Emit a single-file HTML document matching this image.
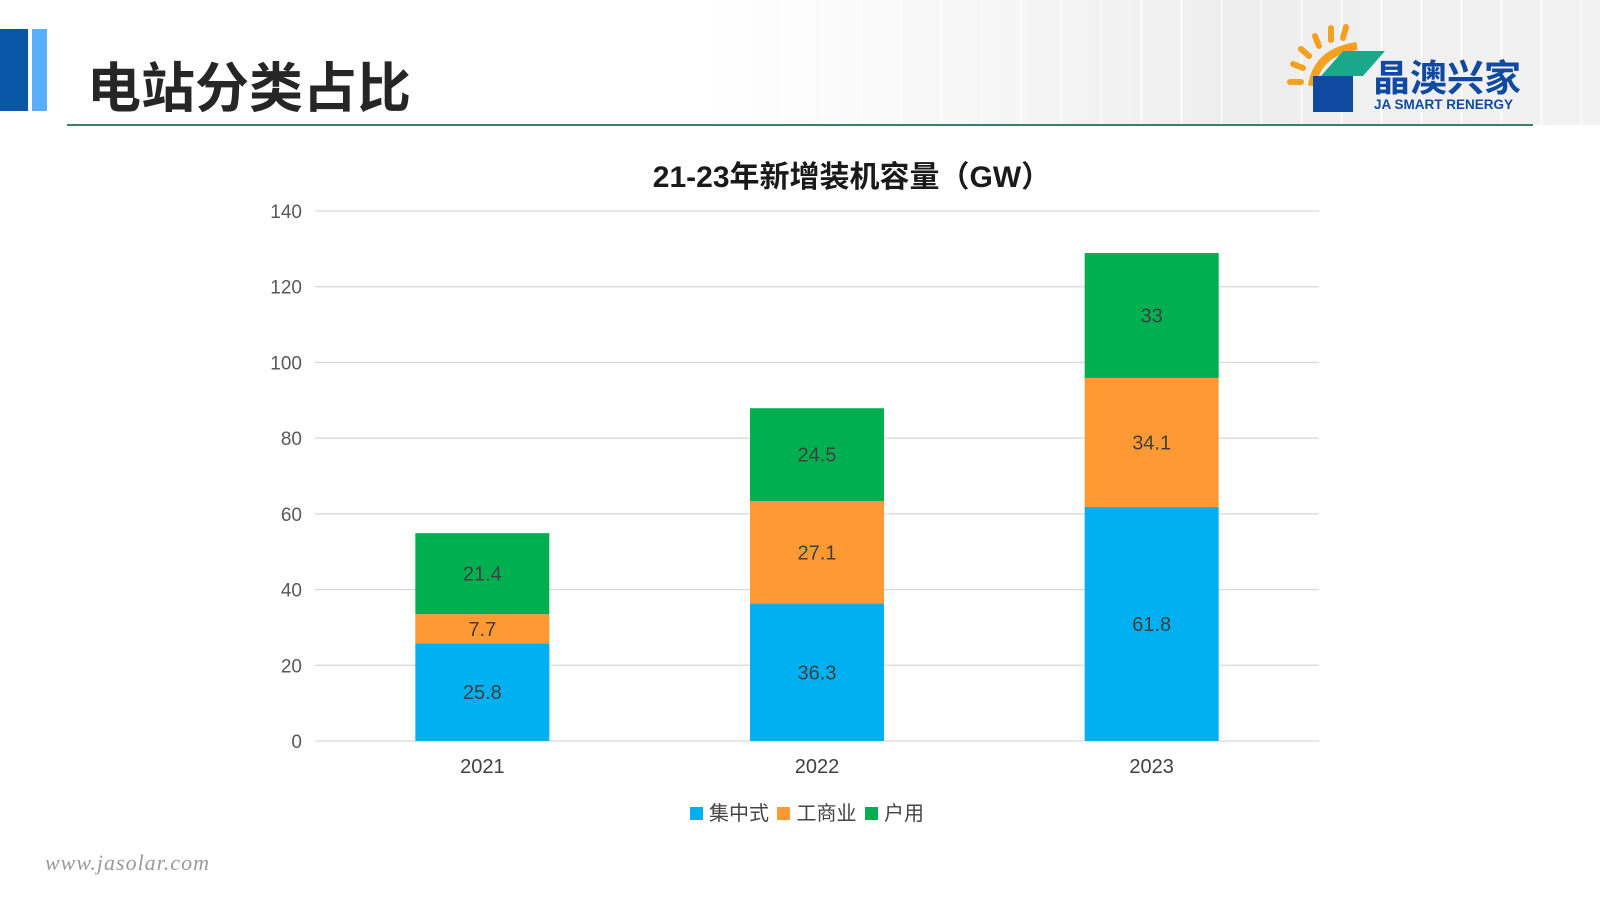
<!DOCTYPE html>
<html><head><meta charset="utf-8"><style>
html,body{margin:0;padding:0}
body{width:1600px;height:900px;position:relative;background:#fff;font-family:"Liberation Sans","Noto Sans CJK SC",sans-serif;overflow:hidden}
.abs{position:absolute}
</style></head><body>
<div class="abs" style="left:700px;top:0;width:900px;height:125px;background:repeating-linear-gradient(90deg,rgba(255,255,255,0.5) 0 3px,rgba(0,0,0,0) 3px 40px),linear-gradient(90deg,rgba(240,240,240,0),#eeeeee 60%,#f2f2f2)"></div>
<div class="abs" style="left:0;top:29px;width:28px;height:82px;background:#0a56a6"></div>
<div class="abs" style="left:32px;top:29px;width:15px;height:82px;background:#5aaeff"></div>
<div class="abs" style="left:87px;top:52px;font-size:54px;font-weight:bold;color:#262626;line-height:64px;font-family:'Noto Sans CJK SC',sans-serif">电站分类占比</div>
<div class="abs" style="left:67px;top:124px;width:1466px;height:2px;background:#3c7f68"></div>
<svg class="abs" style="left:1285px;top:12px" width="300" height="105">
<g stroke="#f4a020" stroke-width="6" stroke-linecap="round">
<line x1="16" y1="70" x2="5" y2="70"/><line x1="18" y1="56" x2="8" y2="52"/><line x1="24" y1="44" x2="16" y2="37"/><line x1="34" y1="34" x2="30" y2="24"/><line x1="46" y1="28" x2="46" y2="16"/><line x1="58" y1="26" x2="61" y2="15"/></g>
<path d="M27 74 Q32 40 72 34" stroke="#f4a020" stroke-width="8" fill="none"/>
<polygon points="36,64 78,64 100,39 58,39" fill="#1aa88a"/>
<rect x="28" y="64" width="40" height="36" fill="#0f4aa0"/>
<text x="88" y="79" font-size="37" font-weight="bold" fill="#0f4aa0" font-family="Noto Sans CJK SC,sans-serif">晶澳兴家</text>
<text x="89" y="97" font-size="13.5" font-weight="bold" fill="#0f4aa0">JA SMART RENERGY</text>
</svg>
<svg class="abs" style="left:0;top:0" width="1600" height="900" id="chart">
<text x="852" y="187" text-anchor="middle" font-size="30" font-weight="bold" fill="#1a1a1a" font-family="Liberation Sans,Noto Sans CJK SC,sans-serif">21-23年新增装机容量（GW）</text>
<g id="grid"></g><g id="bars"></g><g id="labels"></g>
</svg>
<div class="abs" style="left:690px;top:799px;font-size:20px;color:#444;font-family:'Noto Sans CJK SC',sans-serif;white-space:nowrap;line-height:26px">
<span><span style="display:inline-block;width:13px;height:13px;background:#00b0f0;margin-right:6px"></span>集中式</span>
<span style="margin-left:4px"><span style="display:inline-block;width:13px;height:13px;background:#ff9933;margin-right:6px"></span>工商业</span>
<span style="margin-left:4px"><span style="display:inline-block;width:13px;height:13px;background:#00b050;margin-right:6px"></span>户用</span>
</div>
<div class="abs" style="left:45px;top:850px;font-size:22px;font-style:italic;color:#9a9a9a;font-family:'Liberation Serif',serif;letter-spacing:1px">www.jasolar.com</div>
<script>
const categories=["2021","2022","2023"];
const centralized=[25.8,36.3,61.8];
const commercial=[7.7,27.1,34.1];
const residential=[21.4,24.5,33];
const yTicks=[0,20,40,60,80,100,120,140];
const series=[{v:centralized,c:"#00b0f0",n:"centralized"},{v:commercial,c:"#ff9933",n:"commercial"},{v:residential,c:"#00b050",n:"residential"}];
const L=315,R=1319,T=211,B=741,yMax=140;
const y=v=>B-(v/yMax)*(B-T);
const bw=(R-L)/categories.length;
const xc=i=>L+bw*(i+0.5);
const NS="http://www.w3.org/2000/svg";
const g=document.getElementById('grid'),gb=document.getElementById('bars'),gl=document.getElementById('labels');
function mk(tag,attrs,parent,text){const e=document.createElementNS(NS,tag);for(const k in attrs)e.setAttribute(k,attrs[k]);if(text!==undefined)e.textContent=text;parent.appendChild(e);return e;}
yTicks.forEach(t=>{
 const ln=mk('line',{x1:L,x2:R,y1:y(t),y2:y(t),stroke:'#d9d9d9','stroke-width':1.3},g);
 
 
 const tx=mk('text',{x:302,y:y(t)+7,'text-anchor':'end','font-size':19,fill:'#595959'},g,t);
 
 
});
categories.forEach((c,i)=>{
 let base=0;
 series.forEach(s=>{
  const v=s.v[i];
  const r=mk('rect',{x:xc(i)-67,width:134,y:y(base+v),height:y(base)-y(base+v),fill:s.c},gb);
  
  
  const t=mk('text',{x:xc(i),y:y(base+v/2)+7,'text-anchor':'middle','font-size':20,fill:'#404040'},gl,v);
  
  
  base+=v;
 });
 const xl=mk('text',{x:xc(i),y:773,'text-anchor':'middle','font-size':20,fill:'#404040'},gl,c);
 
 
});
</script>
</body></html>
